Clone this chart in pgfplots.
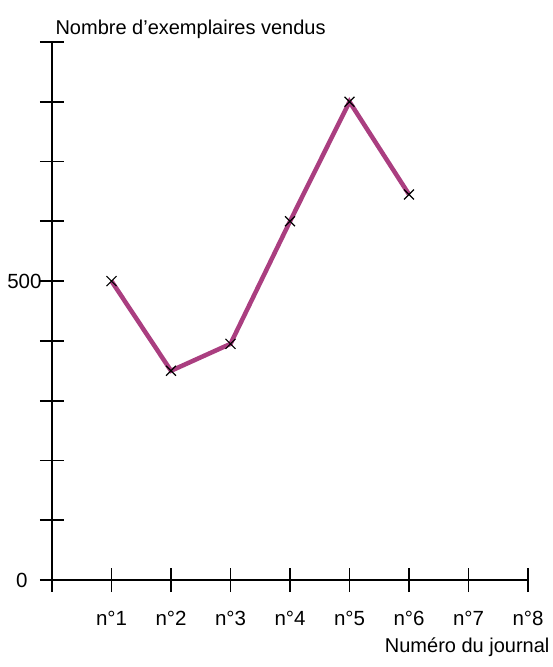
\documentclass[border=0pt]{standalone}
\usepackage{pgfplots}
\pgfplotsset{compat=1.18}
\usepackage{fontspec}
\setmainfont{Liberation Sans}
\definecolor{plum}{RGB}{170,62,128}
\begin{document}
\begin{tikzpicture}
\path[use as bounding box] (-52pt,-87pt) rectangle (501pt,580pt);
\begin{axis}[
  anchor=origin, at={(0pt,0pt)},
  x=59.5pt, y=0.5978pt,
  xmin=-0.2, xmax=8, ymin=-20, ymax=900,
  axis lines=middle,
  axis line style={-, line width=1.7pt, black},
  major tick style={black, line width=1.7pt},
  major tick length=24pt,
  tick align=center,
  xtick={1,2,3,4,5,6,7,8},
  xticklabels={n°1,n°2,n°3,n°4,n°5,n°6,n°7,n°8},
  ytick={100,200,300,400,500,600,700,800,900},
  yticklabels={,,,,500,,,,},
  extra y ticks={0},
  extra y tick labels={0},
  extra y tick style={yticklabel style={xshift=-14pt}},
  hide obscured x ticks=false, hide obscured y ticks=false,
  tick label style={font=\fontsize{20.5}{24}\selectfont},
  xticklabel style={anchor=north, yshift=-16pt},
  yticklabel style={anchor=east, xshift=5pt},
  xlabel={Numéro du journal},
  ylabel={Nombre d’exemplaires vendus},
  label style={font=\fontsize{20}{24}\selectfont},
  xlabel style={at={(axis cs:8.42,-90)}, anchor=north east},
  ylabel style={at={(axis cs:0.0,922)}, anchor=west, rotate=0},
  clip=false,
]
\addplot[color=plum, line width=4.5pt, mark=x, mark size=7pt,
  mark options={black, line width=1.2pt}] coordinates {
  (1,500) (2,350) (3,395) (4,600) (5,800) (6,645)
};
\end{axis}
\end{tikzpicture}
\end{document}
